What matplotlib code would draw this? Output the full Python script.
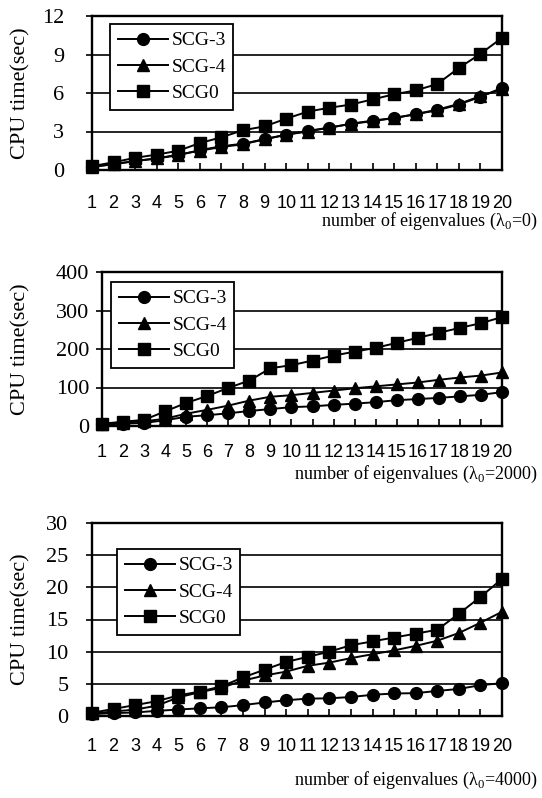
import matplotlib
matplotlib.use("Agg")
import matplotlib.pyplot as plt

plt.rcParams["font.family"] = ["Liberation Serif", "DejaVu Serif"]
plt.rcParams["mathtext.fontset"] = "custom"
plt.rcParams["mathtext.rm"] = "Liberation Serif"

n_eig = list(range(1, 21))
tick_labels = [str(i) for i in n_eig]
series_names = ["SCG-3", "SCG-4", "SCG0"]

# lambda0 = 0
scg3_l0 = [0.25, 0.45, 0.7, 0.9, 1.15, 1.55, 1.85, 2.05, 2.4, 2.75,
           3.05, 3.3, 3.6, 3.85, 4.05, 4.35, 4.65, 5.1, 5.7, 6.4]
scg4_l0 = [0.25, 0.45, 0.7, 0.9, 1.2, 1.5, 1.8, 2.0, 2.4, 2.75,
           3.0, 3.3, 3.6, 3.8, 4.05, 4.35, 4.7, 5.15, 5.75, 6.3]
scg0_l0 = [0.3, 0.6, 0.95, 1.2, 1.5, 2.1, 2.55, 3.1, 3.4, 4.0,
           4.55, 4.85, 5.1, 5.5, 5.9, 6.2, 6.7, 7.95, 9.05, 10.3]

# lambda0 = 2000
scg3_l2000 = [4, 6, 8, 15, 24, 28, 33, 39, 44, 49,
              51, 55, 58, 62, 67, 70, 73, 77, 81, 88]
scg4_l2000 = [5, 9, 12, 19, 32, 42, 53, 66, 76, 80,
              86, 92, 98, 103, 108, 113, 120, 126, 131, 139]
scg0_l2000 = [6, 11, 16, 38, 60, 78, 99, 118, 150, 158,
              170, 183, 193, 203, 216, 229, 242, 255, 267, 283]

# lambda0 = 4000
scg3_l4000 = [0.3, 0.45, 0.55, 0.8, 1.0, 1.2, 1.35, 1.7, 2.1, 2.45,
              2.7, 2.75, 2.95, 3.3, 3.5, 3.55, 3.9, 4.2, 4.8, 5.1]
scg4_l4000 = [0.4, 0.7, 1.0, 1.6, 2.9, 3.7, 4.4, 5.5, 6.3, 6.9,
              7.8, 8.3, 9.0, 9.6, 10.2, 10.9, 11.7, 12.9, 14.5, 16.2]
scg0_l4000 = [0.5, 1.1, 1.7, 2.3, 3.2, 3.8, 4.6, 6.0, 7.2, 8.4,
              9.2, 10.0, 11.0, 11.6, 12.2, 12.8, 13.4, 15.9, 18.5, 21.3]

W, H = 542, 798
MARKERS = [("o", 8.5), ("^", 9), ("s", 8)]


def px_rect(left, top, right, bottom):
    return [left / W, 1 - bottom / H, (right - left) / W, (bottom - top) / H]


def draw_panel(fig, rect, data, yticks, legend_xy, xlabel, xlabel_y,
               xtick_pad, ytick_pad):
    ax = fig.add_axes(px_rect(*rect))
    for vals, (mk, ms), name in zip(data, MARKERS, series_names):
        ax.plot(n_eig, vals, color="black", lw=1.4, marker=mk, ms=ms,
                mfc="black", mec="black", label=name, clip_on=False, zorder=3)
    ax.set_xlim(1, 20)
    ax.set_ylim(yticks[0], yticks[-1])
    ax.set_yticks(yticks)
    ax.set_yticklabels([str(v) for v in yticks], fontsize=16)
    ax.set_xticks(n_eig)
    ax.set_xticklabels(tick_labels, fontsize=13,
                       family=["Liberation Sans", "DejaVu Sans"])
    ax.tick_params(axis="x", direction="in", length=5, width=1.2, pad=xtick_pad)
    ax.tick_params(axis="y", direction="out", length=4, width=1.2, pad=ytick_pad)
    for v in yticks[1:-1]:
        ax.axhline(v, color="black", lw=1.2, zorder=1)
    for sp in ax.spines.values():
        sp.set_linewidth(1.7)
    ax.set_ylabel("CPU time(sec)", fontsize=16)
    ax.yaxis.set_label_coords(-(rect[0] - 30) / (rect[2] - rect[0]), 0.5)
    leg = ax.legend(loc="upper left", bbox_to_anchor=legend_xy, borderaxespad=0,
                    fontsize=14, frameon=True, fancybox=False, edgecolor="black",
                    framealpha=1, handlelength=2.6, handletextpad=0.15,
                    labelspacing=0.45, borderpad=0.4)
    leg.get_frame().set_linewidth(1.3)
    fig.text(538 / W, 1 - xlabel_y / H, xlabel, ha="right", va="center", fontsize=13)
    return ax


fig = plt.figure(figsize=(W / 100, H / 100), dpi=100)

draw_panel(fig, (92, 16, 502, 170), [scg3_l0, scg4_l0, scg0_l0],
           [0, 3, 6, 9, 12], (0.044, 0.948),
           "number of eigenvalues (λ$_0$=0)", 221, 18, 16)
draw_panel(fig, (102, 272, 502, 426), [scg3_l2000, scg4_l2000, scg0_l2000],
           [0, 100, 200, 300, 400], (0.0225, 0.935),
           "number of eigenvalues (λ$_0$=2000)", 474, 13, 5)
draw_panel(fig, (92, 523, 502, 716), [scg3_l4000, scg4_l4000, scg0_l4000],
           [0, 5, 10, 15, 20, 25, 30], (0.061, 0.865),
           "number of eigenvalues (λ$_0$=4000)", 780, 16, 13)

fig.savefig("out.png", dpi=100)
